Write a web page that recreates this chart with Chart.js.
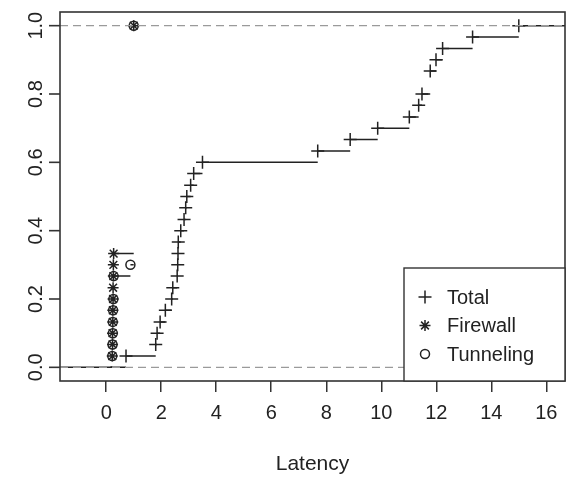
<!DOCTYPE html>
<html><head><meta charset="utf-8">
<script src="https://cdn.jsdelivr.net/npm/chart.js@4.4.0/dist/chart.umd.min.js"></script>
<style>html,body{margin:0;padding:0;background:#fff;}canvas{display:block;}</style>
</head><body>
<div style="width:573px;height:479px;"><canvas id="c" width="573" height="479"></canvas></div>
<script>
// ---- data ----
const seriesNames = ['Total', 'Firewall', 'Tunneling'];
const totalLatency = [0.72, 1.80, 1.85, 1.96, 2.15, 2.38, 2.42, 2.58, 2.60, 2.61, 2.62, 2.71, 2.83, 2.89, 2.93, 3.07, 3.18, 3.50,
                      7.69, 8.87, 9.87, 11.02, 11.36, 11.48, 11.78, 11.99, 12.23, 13.32, 15.00];
const totalECDF = [0.033, 0.067, 0.100, 0.133, 0.167, 0.200, 0.233, 0.267, 0.300, 0.333, 0.367, 0.400, 0.433, 0.467, 0.500, 0.533, 0.567, 0.600,
                   0.633, 0.667, 0.700, 0.733, 0.767, 0.800, 0.867, 0.900, 0.933, 0.967, 1.000];
const firewallLatency = [0.22, 0.23, 0.23, 0.24, 0.24, 0.25, 0.25, 0.26, 0.26, 0.27, 1.00];
const firewallECDF = [0.033, 0.067, 0.100, 0.133, 0.167, 0.200, 0.233, 0.267, 0.300, 0.333, 1.000];
const tunnelLatency = [0.22, 0.23, 0.24, 0.24, 0.25, 0.26, 0.27, 0.88, 1.00];
const tunnelECDF = [0.033, 0.067, 0.100, 0.133, 0.167, 0.200, 0.267, 0.300, 1.000];
const xTickValues = [0, 2, 4, 6, 8, 10, 12, 14, 16];
const yTickValues = [0.0, 0.2, 0.4, 0.6, 0.8, 1.0];
const xAxisTitle = 'Latency';
const X_MIN = -1.68, X_MAX = 16.68, Y_MIN = -0.04, Y_MAX = 1.04;

const FONT = '"Liberation Sans", Arial, Helvetica, sans-serif';
const INK = '#222';

function stepSegments(xs, ys, left, right) {
  const pts = [{x: left, y: 0}, {x: xs[0], y: 0}, {x: xs[0], y: null}];
  for (let i = 0; i < xs.length; i++) {
    const end = i < xs.length - 1 ? xs[i + 1] : right;
    pts.push({x: xs[i], y: ys[i]}, {x: end, y: ys[i]}, {x: end, y: null});
  }
  return pts;
}
function pts(xs, ys) { return xs.map((x, i) => ({x: x, y: ys[i]})); }

const lineBase = {type: 'line', showLine: true, pointRadius: 0, borderColor: INK, borderWidth: 1.5, spanGaps: false, tension: 0, fill: false};
const markerBase = {type: 'scatter', showLine: false, borderColor: INK, backgroundColor: 'rgba(0,0,0,0)', pointBorderWidth: 1.5};

const markerStyles = {Total: {pointStyle: 'cross', radius: 6.5}, Firewall: {pointStyle: 'star', radius: 5.5}, Tunneling: {pointStyle: 'circle', radius: 4.5}};

const datasets = [
  Object.assign({}, lineBase, {label: 'h0', data: [{x: X_MIN, y: 0}, {x: X_MAX, y: 0}], borderColor: '#9a9a9a', borderWidth: 1.3, borderDash: [8, 5]}),
  Object.assign({}, lineBase, {label: 'h1', data: [{x: X_MIN, y: 1}, {x: X_MAX, y: 1}], borderColor: '#9a9a9a', borderWidth: 1.3, borderDash: [8, 5]}),
  Object.assign({}, markerBase, {label: seriesNames[0], data: pts(totalLatency, totalECDF), pointStyle: 'cross', pointRadius: markerStyles.Total.radius}),
  Object.assign({}, markerBase, {label: seriesNames[1], data: pts(firewallLatency, firewallECDF), pointStyle: 'star', pointRadius: markerStyles.Firewall.radius}),
  Object.assign({}, markerBase, {label: seriesNames[2], data: pts(tunnelLatency, tunnelECDF), pointStyle: 'circle', pointRadius: markerStyles.Tunneling.radius}),
  Object.assign({}, lineBase, {label: 'Total steps', data: stepSegments(totalLatency, totalECDF, X_MIN - 2, X_MAX + 2)}),
  Object.assign({}, lineBase, {label: 'Firewall steps', data: stepSegments(firewallLatency, firewallECDF, 0.16, 1.06)}),
  Object.assign({}, lineBase, {label: 'Tunneling steps', data: stepSegments(tunnelLatency, tunnelECDF, 0.16, 1.06)})
];

const framePlugin = {
  id: 'frame',
  afterDraw(chart) {
    const ctx = chart.ctx, a = chart.chartArea, ys = chart.scales.y;
    ctx.save();
    ctx.strokeStyle = '#333'; ctx.lineWidth = 1.6;
    ctx.strokeRect(a.left, a.top, a.right - a.left, a.bottom - a.top);
    ctx.fillStyle = INK; ctx.font = '20px ' + FONT;
    ctx.textAlign = 'center'; ctx.textBaseline = 'middle';
    yTickValues.forEach(v => {
      const py = ys.getPixelForValue(v);
      ctx.beginPath(); ctx.moveTo(a.left, py); ctx.lineTo(a.left - 11, py); ctx.stroke();
      ctx.save(); ctx.translate(a.left - 24, py); ctx.rotate(-Math.PI / 2);
      ctx.fillText(v.toFixed(1), 0, 0); ctx.restore();
    });
    const lw = 161, lh = 113;
    const lx = a.right - lw, ly = a.bottom - lh;
    ctx.fillStyle = '#fff'; ctx.fillRect(lx, ly, lw, lh);
    ctx.strokeStyle = '#333'; ctx.lineWidth = 1.4; ctx.strokeRect(lx, ly, lw, lh);
    ctx.font = '20px ' + FONT; ctx.textAlign = 'left'; ctx.textBaseline = 'middle';
    seriesNames.forEach((name, i) => {
      const cy = ly + 29 + i * 28.5;
      const st = markerStyles[name];
      ctx.strokeStyle = INK; ctx.fillStyle = 'rgba(0,0,0,0)'; ctx.lineWidth = 1.5;
      Chart.helpers.drawPoint(ctx, {pointStyle: st.pointStyle, radius: st.radius, borderWidth: 1.5, rotation: 0}, lx + 21, cy);
      ctx.fillStyle = INK;
      ctx.fillText(name, lx + 43, cy + 1);
    });
    ctx.restore();
  }
};

new Chart(document.getElementById('c'), {
  data: {datasets: datasets},
  options: {
    responsive: false, animation: false, devicePixelRatio: 1,
    layout: {padding: {top: 12, right: 8, left: 0, bottom: 0}},
    plugins: {legend: {display: false}, tooltip: {enabled: false}},
    scales: {
      x: {
        type: 'linear', min: X_MIN, max: X_MAX,
        afterBuildTicks: s => { s.ticks = xTickValues.map(v => ({value: v})); },
        afterFit: s => { s.height = 98; },
        ticks: {color: INK, font: {family: FONT, size: 20}, padding: 9, maxRotation: 0, callback: v => String(v)},
        grid: {drawOnChartArea: false, drawTicks: true, tickLength: 11, color: '#333', lineWidth: 1.5},
        border: {display: false},
        title: {display: true, text: xAxisTitle, color: INK, font: {family: FONT, size: 21}, padding: {top: 0, bottom: 2}}
      },
      y: {
        type: 'linear', min: Y_MIN, max: Y_MAX,
        afterBuildTicks: s => { s.ticks = yTickValues.map(v => ({value: v})); },
        afterFit: s => { s.width = 60; },
        ticks: {display: false},
        grid: {display: false},
        border: {display: false}
      }
    }
  },
  plugins: [framePlugin]
});
</script>
</body></html>
